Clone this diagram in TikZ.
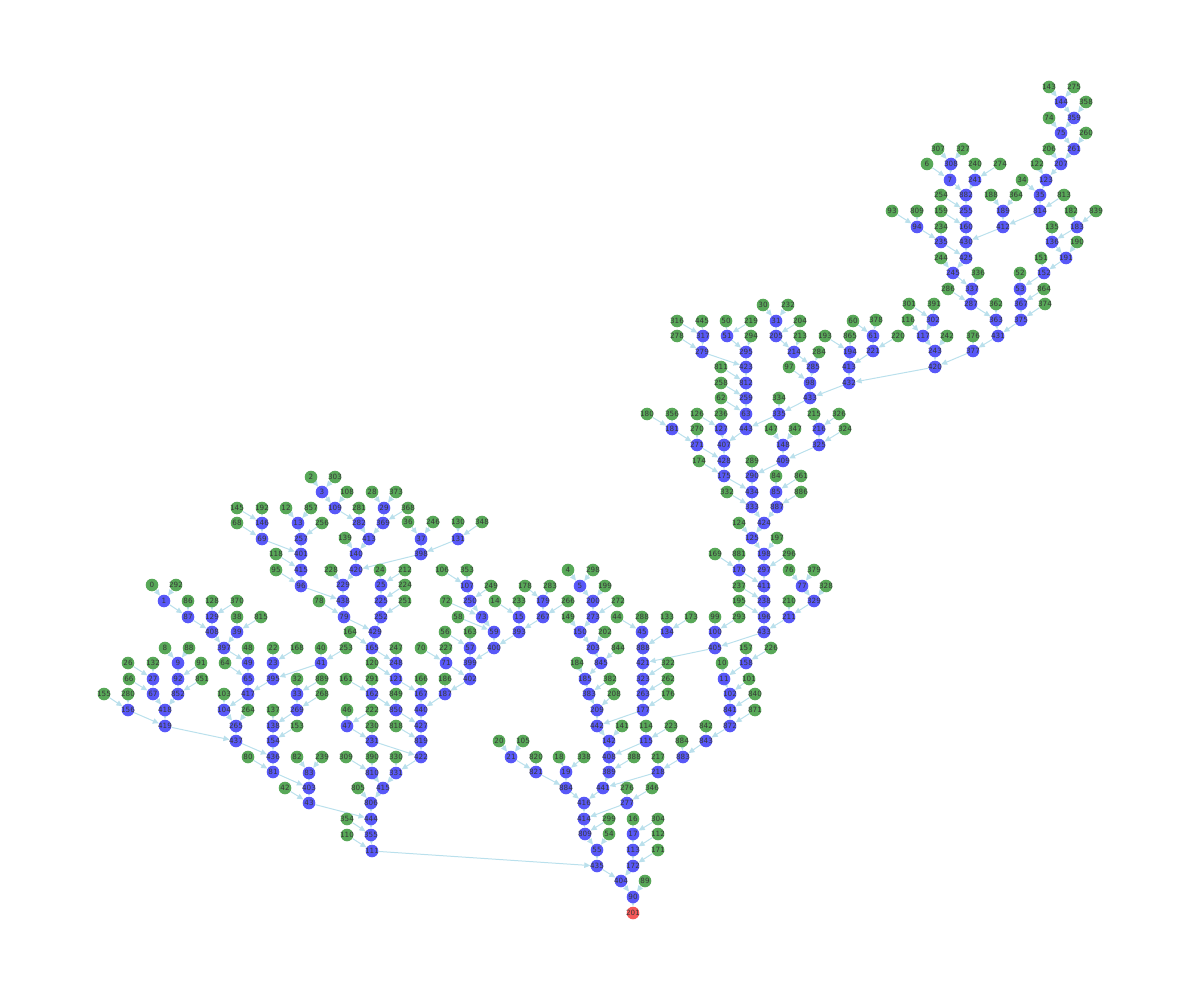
\documentclass[tikz,border=0pt]{standalone}
\usepackage{fontspec}
\setmainfont{DejaVu Sans}
\usetikzlibrary{arrows.meta,backgrounds}
\definecolor{bnc}{RGB}{88,88,248}
\definecolor{gnc}{RGB}{88,168,88}
\definecolor{rnc}{RGB}{245,88,88}
\definecolor{edc}{RGB}{186,224,236}
\begin{document}
\begin{tikzpicture}[x=0.5pt,y=-0.5pt,
  nd/.style={circle,minimum size=6.3pt,inner sep=0pt,draw=none,text=black!78,font=\fontsize{3.6pt}{3.6pt}\selectfont},
  bn/.style={nd,fill=bnc},
  gn/.style={nd,fill=gnc},
  rn/.style={nd,fill=rnc},
  ed/.style={draw=edc,line width=0.5pt,-{Triangle[length=3pt,width=2.7pt]}}]
\useasboundingbox (0,0) rectangle (1200,1000);
% blue nodes
\foreach \t/\x/\y in {144/1061/102, 359/1074/118, 75/1061/133, 261/1074/149, 308/951/164, 207/1061/164, 7/950/180, 241/975/180, 123/1046/180, 882/966/195, 35/1040/195, 255/966/211, 189/1003/211, 814/1040/211, 94/917/227, 160/966/227, 412/1003/227, 183/1077/227, 235/941/242, 430/966/242, 136/1052/242, 425/966/258, 191/1066/258, 245/953/273, 152/1044/273, 337/972/289, 53/1020/289, 287/971/304, 367/1021/304, 302/933/320, 363/996/320, 375/1021/320, 61/873/336, 117/923/336, 431/998/336, 221/873/351, 243/935/351, 377/973/351, 420/935/367,
31/776/321, 317/703/336, 51/727/336, 205/776/336, 279/702/352, 295/746/352, 214/794/352, 194/850/352, 423/746/367, 285/813/367, 413/849/367, 812/746/383, 98/810/383, 432/849/383, 259/746/398, 433/810/398, 63/746/414, 335/779/414, 181/672/429, 127/721/429, 443/746/429, 216/819/429, 271/697/445, 407/724/445, 148/783/445, 325/819/445, 428/724/461, 409/783/461, 175/724/476, 290/752/476, 434/752/492, 85/776/492, 333/752/507, 887/777/507, 424/764/523,
125/752/538, 198/764/554, 170/739/570, 297/764/570, 411/764/586, 77/802/586, 238/764/601, 329/814/601, 196/764/617, 211/789/617, 100/715/632, 405/715/648, 158/746/663, 11/724/679, 102/730/694, 841/730/710, 872/730/726, 843/706/741,
1/164/601, 87/188/617, 129/212/617, 408/212/632, 39/237/632, 397/224/648, 9/178/663, 49/248/663, 23/273/663, 27/153/679, 92/178/679, 65/248/679, 395/273/679, 67/153/694, 852/178/694, 417/248/694, 33/297/694, 156/128/710, 418/165/710, 104/224/710, 269/297/710, 419/165/726, 265/236/726, 138/273/726, 437/236/741, 154/273/741, 436/273/757, 81/273/772, 83/309/773, 403/309/788, 43/309/803,
3/322/492, 109/335/508, 29/384/508, 146/262/523, 13/298/523, 282/359/523, 369/383/523, 69/262/539, 257/301/539, 37/421/539, 131/458/539, 401/301/554, 140/356/554, 398/421/554, 415/301/570, 96/301/586, 229/343/585, 25/381/585, 107/467/586, 438/343/601, 225/381/601, 250/470/601, 79/344/617, 252/381/617, 73/482/617, 429/375/632,
165/372/648, 41/321/663, 248/396/663, 121/396/679, 162/372/694, 167/421/694, 850/396/710, 440/421/710, 47/347/726, 427/421/726, 231/372/741, 819/421/741, 422/421/757, 810/372/773, 331/396/773, 806/371/803, 444/371/819, 355/371/835, 111/372/851,
5/580/586, 179/543/601, 200/593/601, 15/519/617, 267/543/617, 273/593/617, 59/494/632, 393/519/632, 150/580/632, 57/470/648, 400/494/648, 203/593/648, 71/446/663, 399/470/663, 845/601/663, 402/470/679, 185/585/679, 187/445/694, 383/589/694, 209/597/710,
45/642/632, 134/667/632, 888/643/648, 421/643/663, 323/643/679, 263/643/694, 177/643/710, 442/597/726, 142/609/741, 115/646/741,
21/511/757, 883/683/757, 821/536/772, 19/566/772, 389/609/772, 218/658/772, 441/603/788, 416/584/803, 277/627/803, 414/584/819, 809/585/834, 17/633/834, 55/597/850, 113/633/850, 435/597/866, 172/633/866, 404/621/881, 90/633/897}
  \node[bn] (v\t) at (\x,\y) {\makebox[0pt]{\t}};
\foreach \n/\t/\x/\y in {413b/413/369/539, 420b/420/356/570, 415b/415/383/788, 433b/433/764/632, 408b/408/609/757, 884b/884/566/788}
  \node[bn] (v\n) at (\x,\y) {\makebox[0pt]{\t}};
% green nodes
\foreach \t/\x/\y in {143/1049/87, 275/1074/87, 358/1086/102, 74/1049/118, 260/1086/133, 307/938/149, 327/963/149, 206/1049/149, 6/927/164, 240/975/164, 274/1000/164, 122/1037/164, 34/1022/180, 254/941/195, 188/991/195, 364/1016/195, 813/1064/195, 93/892/211, 159/941/211, 182/1071/211, 839/1096/211, 234/941/227, 135/1052/227, 190/1077/242, 244/941/258, 151/1041/258, 336/978/273, 52/1020/273, 286/948/289, 864/1044/289, 301/909/304, 391/934/304, 362/996/304, 374/1045/304, 378/876/320, 116/908/320, 220/898/336, 242/947/336, 376/973/336,
30/763/305, 232/788/305, 316/677/321, 445/702/321, 50/726/321, 219/751/321, 204/800/321, 60/853/321, 278/677/336, 294/751/336, 213/800/336, 193/825/336, 865/850/336, 284/819/352, 811/721/367, 97/789/367, 258/721/383, 62/721/398, 334/779/398, 180/647/414, 356/672/414, 126/697/414, 236/721/414, 215/814/414, 326/839/414, 270/697/429, 147/771/429, 347/795/429, 324/845/429, 174/699/461, 289/752/461, 84/776/476, 861/801/476, 332/727/492, 886/801/492,
124/739/523, 197/777/538, 169/715/554, 881/739/554, 296/789/554, 76/789/570, 379/814/570, 237/739/586, 328/826/586, 195/739/601, 210/789/601, 99/715/617, 293/739/617, 173/691/617, 157/746/648, 226/771/648, 10/722/663, 101/749/679, 840/755/694, 871/755/710, 842/706/726,
0/152/585, 292/176/585, 86/188/601, 128/212/601, 370/237/601, 38/237/617, 815/261/617, 8/165/648, 88/189/648, 48/248/648, 22/273/648, 168/297/648, 26/128/663, 132/153/663, 91/201/663, 64/225/663, 66/129/679, 851/202/679, 32/297/679, 155/104/694, 280/128/694, 103/224/694, 264/248/710, 137/273/710, 153/297/726, 80/248/757, 42/285/788,
2/311/477, 303/335/477, 108/347/492, 28/372/492, 373/396/492, 145/237/508, 192/262/508, 12/286/508, 857/311/508, 281/359/508, 368/408/508, 68/237/523, 256/322/523, 36/408/522, 246/433/522, 130/458/522, 348/482/522, 139/345/538, 118/276/554, 95/276/570, 228/331/570, 24/380/570, 212/405/570, 224/405/585, 78/319/601, 251/405/601, 164/350/632,
40/321/648, 253/346/648, 247/396/648, 70/421/648, 227/446/648, 120/372/663, 889/322/679, 161/346/679, 291/372/679, 166/421/679, 186/445/679, 268/322/694, 849/396/694, 46/347/710, 222/372/710, 230/372/726, 818/396/726, 82/297/757, 239/322/757, 390/372/757, 330/396/757, 805/358/788, 354/347/819, 110/347/835,
106/442/570, 353/467/570, 4/568/570, 298/593/570, 249/491/586, 178/525/586, 283/550/586, 199/605/586, 72/446/601, 14/495/601, 233/519/601, 266/568/601, 272/618/601, 58/458/617, 149/568/617, 44/617/617, 56/445/632, 163/470/632, 202/605/632, 844/618/648, 184/577/663, 382/610/679, 208/614/694,
288/642/617, 133/667/617, 322/668/663, 262/668/679, 176/668/694, 141/622/726, 114/646/726, 223/671/726, 884/682/741,
20/499/741, 105/523/741, 820/536/757, 18/559/757, 338/584/757, 388/634/757, 217/658/757, 276/627/788, 346/652/788, 299/609/819, 16/633/819, 304/658/819, 54/609/834, 112/658/834, 171/658/850, 89/645/881}
  \node[gn] (v\t) at (\x,\y) {\makebox[0pt]{\t}};
\foreach \n/\t/\x/\y in {g809/809/917/211, g309/309/346/757}
  \node[gn] (v\n) at (\x,\y) {\makebox[0pt]{\t}};
% root
\node[rn] (v201) at (633,913) {\makebox[0pt]{201}};
% edges
\begin{scope}[on background layer]
\foreach \a/\b in {143/144, 275/144, 144/359, 358/359, 74/75, 359/75, 75/261, 260/261, 206/207, 261/207, 122/123, 207/123, 34/35, 123/35, 35/814, 813/814, 814/412, 188/189, 364/189, 189/412, 412/430, 307/308, 327/308, 6/7, 308/7, 240/241, 274/241, 7/882, 241/882, 254/255, 882/255, 159/160, 255/160, 160/430, 93/94, g809/94, 94/235, 234/235, 235/425, 430/425, 425/245, 244/245, 245/337, 336/337, 337/287, 286/287, 287/363, 362/363, 363/431, 375/431, 367/375, 374/375, 53/367, 864/367, 52/53, 152/53, 151/152, 191/152, 136/191, 190/191, 135/136, 183/136, 182/183, 839/183, 431/377, 376/377, 377/420, 243/420, 117/243, 242/243, 116/117, 302/117, 301/302, 391/302, 420/432, 378/61, 60/61, 61/221, 220/221, 221/413,
316/317, 445/317, 317/279, 278/279, 279/423, 50/51, 219/51, 51/295, 294/295, 295/423, 423/812, 811/812, 812/259, 258/259, 259/63, 62/63, 63/443, 335/443, 443/407, 127/407, 126/127, 236/127, 180/181, 356/181, 181/271, 270/271, 271/428, 407/428, 428/175, 174/175, 175/434, 290/434, 289/290, 409/290, 148/409, 325/409, 147/148, 347/148, 216/325, 324/325, 215/216, 326/216, 434/333, 332/333, 333/424, 887/424, 85/887, 886/887, 84/85, 861/85, 30/31, 232/31, 31/205, 204/205, 205/214, 213/214, 214/285, 284/285, 285/98, 97/98, 98/433, 432/433, 433/335, 334/335, 193/194, 865/194, 194/413, 413/432,
424/125, 124/125, 125/198, 197/198, 198/297, 296/297, 297/411, 170/411, 169/170, 881/170, 411/238, 237/238, 238/196, 195/196, 196/433b, 211/433b, 210/211, 329/211, 77/329, 328/329, 76/77, 379/77, 433b/405, 100/405, 99/100, 293/100, 405/421, 157/158, 226/158, 158/11, 10/11, 11/102, 101/102, 102/841, 840/841, 841/872, 871/872, 872/843, 842/843, 843/883,
0/1, 292/1, 1/87, 86/87, 87/408, 129/408, 128/129, 370/129, 408/397, 39/397, 38/39, 815/39, 397/49, 48/49, 49/65, 64/65, 65/417, 395/417, 23/395, 41/395, 22/23, 168/23, 417/104, 103/104, 104/265, 264/265, 265/437, 419/437, 8/9, 88/9, 9/92, 91/92, 92/852, 851/852, 852/418, 67/418, 26/27, 132/27, 27/67, 66/67, 418/419, 156/419, 155/156, 280/156, 437/436, 154/436, 138/154, 153/154, 137/138, 269/138, 33/269, 268/269, 32/33, 889/33, 436/81, 80/81, 81/403, 83/403, 82/83, 239/83, 403/43, 42/43, 43/444,
2/3, 303/3, 3/109, 108/109, 109/282, 281/282, 28/29, 373/29, 29/369, 368/369, 282/413b, 369/413b, 413b/140, 139/140, 140/420b, 398/420b, 36/37, 246/37, 37/398, 131/398, 130/131, 348/131, 145/146, 192/146, 146/69, 68/69, 69/401, 12/13, 857/13, 13/257, 256/257, 257/401, 401/415, 118/415, 415/96, 95/96, 96/438, 229/438, 228/229, 420b/229, 438/79, 78/79, 79/429, 252/429, 24/25, 212/25, 25/225, 224/225, 225/252, 251/252, 164/165, 429/165,
40/41, 253/41, 165/248, 247/248, 120/121, 248/121, 121/167, 166/167, 167/440, 187/440, 186/187, 402/187, 56/57, 163/57, 57/399, 400/399, 70/71, 227/71, 71/402, 399/402, 161/162, 291/162, 162/850, 849/850, 850/427, 440/427, 427/819, 818/819, 819/422, 231/422, 46/47, 222/47, 47/231, 230/231, 422/331, 330/331, 331/415b, 810/415b, g309/810, 390/810, 415b/806, 805/806, 806/444, 444/355, 354/355, 355/111, 110/111, 111/435,
106/107, 353/107, 107/250, 249/250, 250/73, 72/73, 73/59, 58/59, 59/400, 393/400, 15/393, 267/393, 14/15, 233/15, 178/179, 283/179, 179/267, 266/267, 4/5, 298/5, 5/200, 199/200, 200/273, 272/273, 273/150, 149/150, 150/203, 202/203, 203/845, 844/845, 845/185, 184/185, 185/383, 382/383, 383/209, 208/209, 209/442,
44/45, 288/45, 45/888, 134/888, 133/134, 173/134, 888/421, 421/323, 322/323, 323/263, 262/263, 263/177, 176/177, 177/442, 442/142, 141/142, 142/408b, 115/408b, 114/115, 223/115,
20/21, 105/21, 21/821, 820/821, 821/884b, 19/884b, 18/19, 338/19, 884b/416, 441/416, 389/441, 218/441, 408b/389, 388/389, 217/218, 883/218, 884/883, 416/414, 277/414, 276/277, 346/277, 414/809, 299/809, 809/55, 54/55, 55/435, 435/404, 172/404, 16/17, 304/17, 17/113, 112/113, 113/172, 171/172, 404/90, 89/90, 90/201}
  \draw[ed] (v\a) -- (v\b);
\end{scope}
\end{tikzpicture}
\end{document}
